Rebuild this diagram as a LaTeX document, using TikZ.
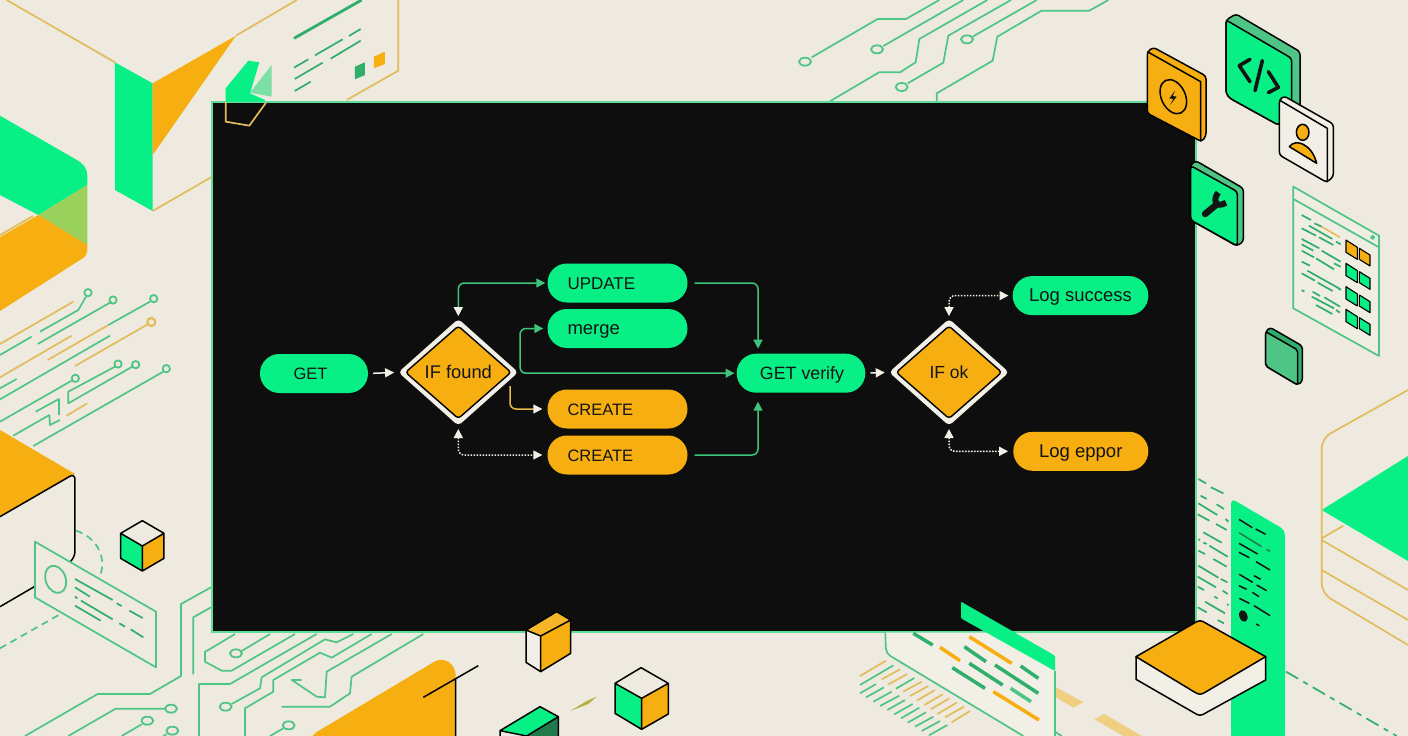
\documentclass[tikz,border=0pt]{standalone}
\usepackage{fontspec}
\setmainfont{Liberation Sans}
\usetikzlibrary{shapes.geometric,arrows.meta}
\definecolor{paper}{HTML}{EEEADF}
\definecolor{panel}{HTML}{0E0E0E}
\definecolor{mint}{HTML}{08F085}
\definecolor{amber}{HTML}{F6AE10}
\definecolor{wire}{HTML}{4FC585}
\definecolor{edge}{HTML}{5FDC98}
\definecolor{deep}{HTML}{2FAE6C}
\definecolor{gold}{HTML}{E2BC5A}
\definecolor{ink}{HTML}{141414}
\definecolor{cream}{HTML}{F2EFE6}
\definecolor{link}{HTML}{3FC47C}
\newcommand\fsz[1]{\fontsize{#1}{20}\selectfont}
\tikzset{
  zc/.style 2 args={shift={(#1,#2)},x=0.33333pt,y=-0.33333pt},
  pill/.style={rectangle,rounded corners=19.4pt,minimum height=39pt,inner sep=0pt,text=ink,text height=12pt,text depth=0pt},
  gpill/.style={pill,fill=mint},
  apill/.style={pill,fill=amber},
  lefttext/.style={text width=100pt,align=left,inner xsep=20pt},
  dmdout/.style={diamond,minimum width=120pt,minimum height=107pt,inner sep=0pt,fill=cream,rounded corners=4pt},
  dmdin/.style={diamond,minimum width=106pt,minimum height=93pt,inner sep=0pt,fill=amber,draw=black,line width=1.4pt,rounded corners=3pt,text=ink,text height=12pt,text depth=0pt},
  tip/.style={arrows={-{Triangle[length=9pt,width=9pt]}}},
  flow/.style={line width=1.5pt,rounded corners=6pt},
  wf/.style={flow,draw=cream,shorten <=5pt,shorten >=4pt,tip},
  gf/.style={flow,draw=link,tip},
  df/.style={flow,draw=cream,dash pattern=on 1.6pt off 1.4pt},
  both/.style={arrows={{Triangle[length=9pt,width=9pt]}-{Triangle[length=9pt,width=9pt]}}},
  wr/.style={draw=wire,line width=1.7pt,line join=round,fill=none},
  wrg/.style={draw=gold,line width=1.7pt,line join=round,fill=none},
  dl/.style={draw=deep,line width=1.7pt},
  ol/.style={draw=black,line width=1.5pt,line join=round},
  bar/.style={line width=3.5pt},
}
\begin{document}
\begin{tikzpicture}[x=1pt,y=-1pt]
\useasboundingbox (0,0) rectangle (1408,736);
\clip (0,0) rectangle (1408,736);
\fill[paper] (0,0) rectangle (1408,736);

% ---------- top-left box ----------
\begin{scope}[zc={0}{0}]
\draw[wrg] (20,0)--(345,187) (708,107)--(890,0) (458,633)--(640,528);
\fill[mint] (345,187)--(458,250)--(458,633)--(345,570)--cycle;
\fill[amber] (458,250)--(708,107)--(458,465)--cycle;
\draw[wrg] (1195,0)--(1195,212)--(1040,300);
\draw[deep,line width=2.8pt] (882,115)--(1085,0);
\path[dl] (1047,108)--(1082,87) (945,166)--(1028,118) (992,176)--(1082,122) (882,203)--(925,178) (884,237)--(968,188) (884,273)--(932,245);
\fill[deep] (1065,200)--(1095,187)--(1095,225)--(1065,238)--cycle;
\fill[amber] (1122,170)--(1155,155)--(1155,192)--(1122,205)--cycle;
\end{scope}
% left slab
\fill[mint] (0,115.7)--(76,159.5) .. controls (83,163.5) and (87.3,168) .. (87.3,176)--(87.3,185)--(38.3,215)--(0,195)--cycle;
\fill[mint!45!amber!85!paper] (87.3,185)--(87.3,245)--(38.3,215)--cycle;
\fill[amber] (0,237)--(38.3,215)--(87.3,245)--(87.3,250) .. controls (87.3,255) and (84,258) .. (80,260)--(0,311)--cycle;
\draw[wrg] (0,235)--(33,216);

% ---------- left circuits ----------
\begin{scope}[zc={0}{220}]
\draw[wrg] (0,372)--(220,245) (0,472)--(215,347) (143,420)--(325,315) (225,438)--(445,312) (200,587)--(262,550);
\draw[wrg,line width=2.2pt] (454,306) circle[radius=12];
\draw[wr] (120,335)--(235,270)--(258,230) (113,372)--(335,245) (0,405)--(95,350) (0,538)--(330,347) (0,505)--(50,477)
  (325,315)--(450,245) (0,605)--(215,482) (345,440)--(205,515)--(205,550)--(397,440)
  (107,575)--(177,537)--(177,585) (180,600)--(150,615)--(148,585)--(40,647) (100,678)--(490,455);
\foreach \p in {(264,218),(339,240),(461,236),(226,475),(354,432),(407,434),(499,446)}
  \draw[wr,line width=1.8pt] \p circle[radius=11];
\end{scope}

% ---------- lower-left box ----------
\begin{scope}[zc={0}{480}]
\fill[paper] (0,-150)--(225,-20)--(225,235)--(215,243)--(0,370)--cycle;
\fill[amber] (0,-150)--(225,-18)--(0,110)--cycle;
\draw[black,line width=1.5pt,rounded corners=6pt] (0,110)--(225,-20)--(225,232)--(212,244);
\draw[black,line width=1.5pt] (0,380)--(103,320);
\draw[wr,dash pattern=on 7pt off 5pt] (228,152) .. controls (285,170) and (320,225) .. (302,282);
\draw[wr,dash pattern=on 7pt off 5pt] (0,505)--(185,400);
\filldraw[wr,fill=paper] (105,185)--(468,395)--(468,562)--(105,352)--cycle;
\draw[wr,line width=1.8pt] (167,298) ellipse[x radius=10pt,y radius=14pt,rotate=20];
\path[dl] (225,297)--(338,360) (225,322)--(270,350) (225,350)--(232,355) (243,362)--(338,418) (225,377)--(302,422) (350,370)--(365,378) (388,392)--(428,414) (358,430)--(375,440) (392,448)--(430,472);
% small cube
\fill[paper] (427,122)--(362,160)--(427,198)--(492,160)--cycle;
\fill[mint] (362,160)--(427,198)--(427,273)--(362,235)--cycle;
\fill[amber] (492,160)--(427,198)--(427,273)--(492,235)--cycle;
\draw[ol] (427,122)--(362,160)--(362,235)--(427,273)--(492,235)--(492,160)--cycle (362,160)--(427,198)--(492,160) (427,198)--(427,273);
% wires
\draw[wr] (75,768)--(293,642)--(450,642)--(543,588)--(543,372)--(633,322)
 (580,583)--(580,412)--(633,382)
 (205,768)--(347,686)--(495,686)
 (365,768)--(425,733)
 (490,768)--(500,762)
 (705,462)--(625,510)--(615,515)--(615,545)--(665,572)--(695,572)--(885,462)
 (725,513)--(810,462)
 (597,768)--(597,612)--(690,612)--(950,462)
 (695,672)--(780,625)--(785,592)--(975,478)--(1010,487)--(1060,462)
 (735,768)--(735,685)--(820,635)--(820,600)--(960,518)--(995,533)--(1115,462)
 (905,600)--(875,600)--(950,650)--(975,652)--(980,575)--(1175,462)
 (845,680)--(990,680)--(1050,640)--(1055,590)--(1270,462)
 (810,768)--(850,745);
\foreach \p in {(513,686),(442,722),(517,752),(708,520),(677,680),(866,736)}
  \draw[wr,line width=1.8pt] \p ellipse[x radius=6pt,y radius=4pt];
% amber wedge
\fill[amber,rounded corners=8pt] (930,768)--(1325,532)--(1367,560)--(1367,790)--(930,790)--cycle;
\draw[black,line width=1.5pt] (1367,595)--(1367,768) (1270,652)--(1435,557);
\end{scope}

% ---------- top circuits ----------
\begin{scope}[zc={780}{0}]
\draw[wr] (95,172)--(293,57)--(378,57)--(478,0)
 (310,138)--(550,0)
 (148,305)--(297,217)--(360,217)--(407,187)--(418,117)--(622,0)
 (383,250)--(490,188)--(505,107)--(693,0)
 (578,110)--(770,0)
 (470,305)--(470,280)--(638,182)--(652,110)--(785,32)--(928,32)--(985,0);
\foreach \p in {(75,185),(291,148),(365,261),(561,118)}
  \draw[wr,line width=1.8pt] \p ellipse[x radius=6pt,y radius=4pt];
\end{scope}

% ---------- right: gold box, dashes ----------
\begin{scope}[zc={1130}{380}]
\fill[mint] (575,390)--(834,228)--(834,543)--cycle;
\draw[wrg,rounded corners=10pt] (834,30)--(575,175)--(575,640)--(834,795);
\draw[wrg] (575,480)--(834,630) (575,570)--(834,720) (575,475)--(640,437);
\draw[dl,dash pattern=on 14pt off 6pt on 5pt off 6pt] (468,875)--(800,1068);
\end{scope}

% ---------- main panel ----------
\filldraw[fill=panel,draw=edge,line width=2pt] (211.5,102) rectangle (1196,632);

% fragments above the panel edge
\begin{scope}[zc={0}{0}]
\fill[mint] (745,182)--(778,187)--(750,280)--(795,300)--(795,305)--(677,305)--(677,265)--cycle;
\fill[edge!80!paper] (815,195)--(750,278)--(815,290)--cycle;
\draw[wrg] (677,305)--(677,365)--(748,377)--(798,308);
\end{scope}

% ---------- right edge dashes / column ----------
\begin{scope}[zc={1130}{380}]
\path[dl] (205,297)--(228,310) (243,322)--(280,340) (212,347)--(230,357) (260,373)--(282,387) (205,370)--(262,405) (203,403)--(238,422) (258,432)--(290,450) (220,457)--(275,488) (287,417)--(295,425) (205,478)--(210,480) (220,488)--(230,492) (238,497)--(293,530) (205,512)--(225,522) (250,537)--(290,560) (205,557)--(265,593) (203,590)--(258,622) (272,597)--(292,607) (203,620)--(222,630) (278,632)--(293,642) (253,650)--(263,655) (225,665)--(285,700) (203,682)--(230,697) (263,720)--(282,730) (292,672)--(295,676);
\fill[mint,rounded corners=5pt] (303,1080)--(303,355)--(465,450)--(465,1080)--cycle;
\path[draw=ink,line width=1.5pt] (327,418)--(367,443) (377,447)--(407,463) (327,490)--(383,522) (327,517)--(358,533) (378,545)--(420,570) (328,583)--(368,607) (372,587)--(392,598) (327,617)--(350,628) (380,615)--(410,632) (367,637)--(387,650) (328,655)--(358,670) (372,677)--(420,707) (378,732)--(388,737);
\draw[deep!70!black,line width=1.5pt] (327,458)--(395,500) (410,508)--(420,514);
\fill[ink] (340,708) ellipse[x radius=4pt,y radius=6pt,rotate=20];
\end{scope}

% ---------- tile ----------
\begin{scope}[zc={1130}{380}]
\filldraw[ol,fill=cream] (18,830)--(18,898)--(188,996) .. controls (210,1009) .. (232,996)--(407,900)--(407,830)--cycle;
\filldraw[ol,fill=amber] (18,830)--(188,732) .. controls (210,719) .. (232,732)--(407,830)--(232,933) .. controls (210,946) .. (188,933)--cycle;
\end{scope}

% ---------- bottom-centre panel ----------
\begin{scope}[zc={860}{590}]
\fill[amber!45!paper] (585,290)--(670,337)--(640,353)--(585,320)--cycle (733,372)--(845,438)--(790,438)--(703,388)--cycle;
\fill[cream] (78,128)--(78,190)--(490,438)--(585,438)--(585,220)--(380,128)--cycle;
\draw[wr,rounded corners=5pt] (76,128)--(78,190)--(490,438);
\draw[wr] (585,243)--(585,438) (585,425)--(605,438);
\fill[mint,rounded corners=1pt] (303,35)--(585,197)--(585,243)--(303,85)--cycle;
\draw[wrg] (0,258)--(78,212) (65,268)--(120,238) (85,283)--(142,252) (130,305)--(185,275) (150,318)--(205,288) (170,332)--(225,300) (193,345)--(248,313) (212,358)--(268,325) (232,372)--(290,338) (255,382)--(312,350) (275,397)--(330,363);
\draw[wr] (0,285)--(100,226) (0,310)--(48,282) (18,322)--(72,292) (40,335)--(95,305) (60,348)--(118,317) (82,360)--(135,330) (103,373)--(158,342) (123,385)--(178,353) (143,398)--(198,367) (165,410)--(220,380) (185,423)--(240,393) (207,436)--(262,405) (108,296)--(163,264);
\path[draw=deep,bar] (160,130)--(218,165) (313,170)--(378,215) (405,225)--(535,310) (482,228)--(535,265) (328,220)--(428,285) (277,233)--(375,295);
\path[draw=wire,bar] (452,295)--(513,335);
\path[draw=amber,bar] (240,172)--(300,212) (328,140)--(455,220) (400,305)--(537,390);
\end{scope}

% ---------- bottom cubes ----------
\begin{scope}[zc={420}{600}]
\fill[amber!90!white] (322,90)--(410,35)--(452,60)--(362,108)--cycle;
\fill[cream] (318,90)--(362,108)--(362,215)--(318,187)--cycle;
\fill[amber] (452,60)--(362,108)--(362,215)--(452,160)--cycle;
\draw[ol] (318,90)--(410,35)--(452,60)--(452,160)--(362,215)--(318,187)--cycle (318,90)--(362,108)--(452,60) (362,108)--(362,215);
\fill[paper] (663,203)--(585,250)--(665,295)--(745,250)--cycle;
\fill[mint] (585,250)--(665,295)--(665,388)--(585,340)--cycle;
\fill[amber] (745,250)--(665,295)--(665,388)--(745,342)--cycle;
\draw[ol] (663,203)--(585,250)--(585,340)--(665,388)--(745,342)--(745,250)--cycle (585,250)--(665,295)--(745,250) (665,295)--(665,388);
\fill[mint] (240,392)--(360,320)--(415,350)--(320,408)--cycle;
\fill[deep!70!black] (320,408)--(415,350)--(415,420)--(320,420)--cycle;
\draw[ol] (240,420)--(240,392)--(360,320)--(415,350)--(415,420) (240,392)--(320,408)--(415,350);
\fill[olive!60!paper] (450,333)--(500,303)--(530,290)--(505,312)--cycle;
\end{scope}

% ---------- icons ----------
\begin{scope}[zc={1130}{0}]
% amber icon
\filldraw[ol,fill=amber,rounded corners=3pt] (52,155)--(70,142)--(228,228)--(228,408)--(215,425)--(52,340)--cycle;
\draw[ol] (52,155)--(212,245)--(212,425);
\draw[ol] (130,290) ellipse[x radius=12pt,y radius=18pt,rotate=25];
\fill[ink] (135,272)--(118,295)--(130,297)--(120,315)--(140,290)--(128,288)--cycle;
% code icon
\filldraw[ol,fill=wire,rounded corners=3pt] (288,60)--(318,42)--(510,155)--(510,330)--(445,375)--(300,295)--(288,280)--cycle;
\filldraw[ol,fill=mint,rounded corners=3pt] (288,60)--(485,175)--(485,350)--(445,375)--(300,295)--(288,280)--cycle;
\draw[ink,line width=3.6pt,line cap=round,line join=round] (360,178)--(328,197)--(360,245) (397,182)--(375,272) (415,278)--(445,262)--(415,215);
% person icon
\filldraw[ol,fill=cream,rounded corners=3pt] (448,300)--(462,288)--(610,372)--(610,530)--(590,547)--(448,465)--cycle;
\draw[ol] (448,300)--(592,385)--(592,547);
\filldraw[ol,fill=amber] (518,397) ellipse[x radius=6.3pt,y radius=8pt];
\filldraw[ol,fill=amber] (478,440) .. controls (495,415) and (545,430) .. (560,490) -- cycle;
% wrench icon
\filldraw[ol,fill=wire,rounded corners=3pt] (182,495)--(197,482)--(340,565)--(340,725)--(320,738)--(182,660)--cycle;
\filldraw[ol,fill=mint,rounded corners=3pt] (182,497)--(322,575)--(322,738)--(182,660)--cycle;
\draw[ink,line width=6.5pt,line cap=round] (225,642)--(258,615);
\draw[ink,line width=6pt] (265,578) .. controls (248,595) and (255,628) .. (288,608);
% plain green icon
\filldraw[ol,fill=deep,rounded corners=3pt] (407,995)--(420,982)--(517,1038)--(517,1145)--(503,1155)--(407,1098)--cycle;
\filldraw[ol,fill=wire,rounded corners=2pt] (407,995)--(503,1050)--(503,1155)--(407,1098)--cycle;
% browser panel
\filldraw[wr,fill=paper!40!cream] (490,560)--(747,707)--(747,1068)--(490,925)--cycle;
\draw[wr] (490,597)--(747,742);
\draw[wr] (728,712) circle[radius=5];
\path[dl] (515,645)--(543,660) (553,670)--(575,680) (537,677)--(607,717) (515,685)--(558,707) (567,712)--(610,735) (618,725)--(632,733) (515,717)--(568,745) (575,752)--(632,785) (515,733)--(550,752) (515,752)--(552,772) (558,775)--(612,808) (515,785)--(540,797) (612,790)--(632,800) (515,820)--(555,842) (532,812)--(632,868) (563,848)--(608,873) (618,860)--(632,870) (515,870)--(523,875) (548,875)--(570,888) (583,892)--(630,920) (545,890)--(612,925) (558,915)--(607,942) (618,930)--(630,938);
\draw[gold,line width=1.5pt] (575,680)--(630,712);
\foreach \dy/\c in {0/amber,70/mint,140/mint,208/mint}{
 \filldraw[ol,fill=\c,line width=1.1pt,yshift=-\dy*0.33333pt] (648,720)--(682,742)--(682,778)--(648,757)--cycle;
 \filldraw[ol,fill=\c,line width=1.1pt,yshift=-\dy*0.33333pt] (688,745)--(720,765)--(720,798)--(688,778)--cycle;
}
\end{scope}

% ---------- flow nodes ----------
\node[gpill,minimum width=108pt,font=\fsz{16.5}] (get) at (314,373.5) {\hspace*{-7pt}GET};
\node[dmdout] (d1o) at (458.3,372.3) {};
\node[dmdin,font=\fsz{18.3}] (d1) at (458.3,372.3) {IF found};
\node[gpill,lefttext,font=\fsz{17}] (update) at (617.5,283) {UPDATE};
\node[gpill,lefttext,font=\fsz{18.5}] (merge) at (617.5,328.5) {merge};
\node[apill,lefttext,font=\fsz{16.5}] (create1) at (617.5,409) {CREATE};
\node[apill,lefttext,font=\fsz{16.5}] (create2) at (617.5,455) {CREATE};
\node[gpill,minimum width=128.6pt,font=\fsz{17.8}] (verify) at (801,373.2) {\hspace*{2pt}GET verify};
\node[dmdout] (d2o) at (949,372.3) {};
\node[dmdin,font=\fsz{17.5}] (d2) at (949,372.3) {IF ok};
\node[gpill,minimum width=135.6pt,font=\fsz{18.5}] (ok) at (1080.5,295.6) {Log success};
\node[apill,minimum width=135pt,font=\fsz{18.5}] (err) at (1080.8,451.3) {Log eppor};

\coordinate (jm) at (520,350);
\coordinate (va) at (758,353.7);
\coordinate (vb) at (758,392.7);
\coordinate (kn) at (510,386);

% ---------- connectors ----------
\draw[wf] (get.east) -- (d1o.west);
\draw[wf] (verify.east) -- (d2o.west);
\draw[flow,draw=link,arrows={{Triangle[length=9pt,width=9pt,color=cream]}-{Triangle[length=9pt,width=9pt]}},shorten <=2.5pt,shorten >=2pt] (d1o.north) |- (update.west);
\draw[flow,draw=link,both,shorten <=2pt,shorten >=4pt] (verify.west) -| (jm) |- (merge.west);
\draw[flow,draw=gold!70!amber,arrows={-{Triangle[length=9pt,width=9pt,color=cream]}},shorten >=5pt] (kn) |- (create1.west);
\draw[df,both,shorten <=3pt,shorten >=5pt] (d1o.south) |- (create2.west);
\draw[gf,shorten <=7pt,shorten >=5pt] (update.east) -| (va);
\draw[gf,shorten <=7pt,shorten >=9pt] (create2.east) -| (vb);
\draw[df,both,shorten <=2.5pt,shorten >=4pt] (d2o.north) |- (ok.west);
\draw[df,both,shorten <=3pt,shorten >=5pt] (d2o.south) |- (err.west);
\end{tikzpicture}
\end{document}
